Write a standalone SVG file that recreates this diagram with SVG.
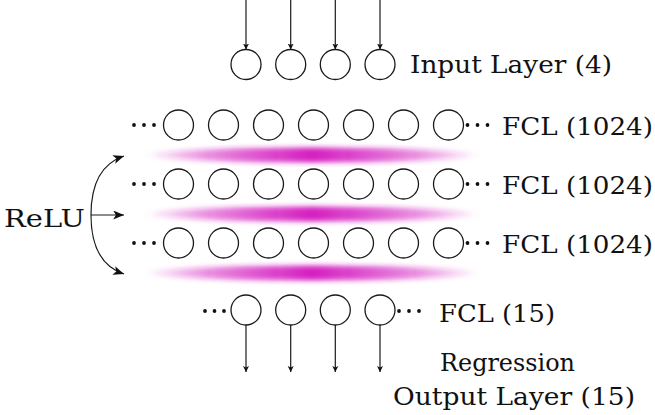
<svg xmlns="http://www.w3.org/2000/svg" width="655" height="415" viewBox="0 0 655 415">
  <style>
    .n { fill: #fff; stroke: #1a1a1a; stroke-width: 1.3; }
    .e { fill: none; stroke: #1a1a1a; stroke-width: 1.2; }
    .d { fill: #111; }
    .t { font-family: 'DejaVu Serif', serif; font-size: 25px; fill: #111; }
    .band { fill: url(#bandFill); filter: url(#soft); }
  </style>
  <defs>
    <marker id="tip" viewBox="0 0 10 10" refX="10" refY="5" markerWidth="6" markerHeight="7" markerUnits="userSpaceOnUse" orient="auto">
      <path d="M0 0 L10 5 L0 10 L2.5 5 Z" fill="#111"/>
    </marker>
    <marker id="big" viewBox="0 0 12 10" refX="12" refY="5" markerWidth="12" markerHeight="9" markerUnits="userSpaceOnUse" orient="auto">
      <path d="M0 0 L12 5 L0 10 L3 5 Z" fill="#111"/>
    </marker>
    <linearGradient id="bandFill" x1="0" y1="0" x2="1" y2="0">
      <stop offset="0" stop-color="#d41cc0" stop-opacity="0.1"/>
      <stop offset="0.2" stop-color="#d41cc0" stop-opacity="0.55"/>
      <stop offset="0.5" stop-color="#d41cc0" stop-opacity="1"/>
      <stop offset="0.8" stop-color="#d41cc0" stop-opacity="0.55"/>
      <stop offset="1" stop-color="#d41cc0" stop-opacity="0.1"/>
    </linearGradient>
    <filter id="soft" x="-0.2" y="-2" width="1.4" height="5">
      <feGaussianBlur stdDeviation="6 2.5"/>
    </filter>
  </defs>

  <!-- activation bands between layers -->
  <ellipse class="band" cx="312" cy="155" rx="160" ry="7.5"/>
  <ellipse class="band" cx="312" cy="214" rx="160" ry="7.5"/>
  <ellipse class="band" cx="312" cy="273" rx="160" ry="7.5"/>

  <g id="connectors">
    <line class="e" x1="246" y1="0" x2="246" y2="49.5" marker-end="url(#tip)"/>
    <line class="e" x1="290.7" y1="0" x2="290.7" y2="49.5" marker-end="url(#tip)"/>
    <line class="e" x1="335.3" y1="0" x2="335.3" y2="49.5" marker-end="url(#tip)"/>
    <line class="e" x1="380" y1="0" x2="380" y2="49.5" marker-end="url(#tip)"/>
    <line class="e" x1="246" y1="325" x2="246" y2="372" marker-end="url(#tip)"/>
    <line class="e" x1="290.7" y1="325" x2="290.7" y2="372" marker-end="url(#tip)"/>
    <line class="e" x1="335.3" y1="325" x2="335.3" y2="372" marker-end="url(#tip)"/>
    <line class="e" x1="380" y1="325" x2="380" y2="372" marker-end="url(#tip)"/>
    <path class="e" d="M91 215 C91 186 100 164 124 156" marker-end="url(#big)"/>
    <line class="e" x1="91" y1="215" x2="124" y2="215" marker-end="url(#big)"/>
    <path class="e" d="M91 215 C91 244 100 266 124 274" marker-end="url(#big)"/>
  </g>

  <g id="input-layer">
    <g id="in-1"><circle class="n" cx="246" cy="64.5" r="15"/></g>
    <g id="in-2"><circle class="n" cx="290.7" cy="64.5" r="15"/></g>
    <g id="in-3"><circle class="n" cx="335.3" cy="64.5" r="15"/></g>
    <g id="in-4"><circle class="n" cx="380" cy="64.5" r="15"/></g>
    <text class="t" x="410" y="73" textLength="202" lengthAdjust="spacingAndGlyphs">Input Layer (4)</text>
  </g>

  <g id="fcl-1">
    <circle class="d" cx="134" cy="125" r="1.9"/><circle class="d" cx="144" cy="125" r="1.9"/><circle class="d" cx="154" cy="125" r="1.9"/>
    <g id="h1-1"><circle class="n" cx="178.5" cy="125" r="15"/></g>
    <g id="h1-2"><circle class="n" cx="223.5" cy="125" r="15"/></g>
    <g id="h1-3"><circle class="n" cx="268.5" cy="125" r="15"/></g>
    <g id="h1-4"><circle class="n" cx="313.5" cy="125" r="15"/></g>
    <g id="h1-5"><circle class="n" cx="358.5" cy="125" r="15"/></g>
    <g id="h1-6"><circle class="n" cx="403.5" cy="125" r="15"/></g>
    <g id="h1-7"><circle class="n" cx="448.5" cy="125" r="15"/></g>
    <circle class="d" cx="467.5" cy="125" r="1.9"/><circle class="d" cx="477.5" cy="125" r="1.9"/><circle class="d" cx="487.5" cy="125" r="1.9"/>
    <text class="t" x="502" y="135" textLength="151" lengthAdjust="spacingAndGlyphs">FCL (1024)</text>
  </g>

  <g id="fcl-2">
    <circle class="d" cx="134" cy="184" r="1.9"/><circle class="d" cx="144" cy="184" r="1.9"/><circle class="d" cx="154" cy="184" r="1.9"/>
    <g id="h2-1"><circle class="n" cx="178.5" cy="184" r="15"/></g>
    <g id="h2-2"><circle class="n" cx="223.5" cy="184" r="15"/></g>
    <g id="h2-3"><circle class="n" cx="268.5" cy="184" r="15"/></g>
    <g id="h2-4"><circle class="n" cx="313.5" cy="184" r="15"/></g>
    <g id="h2-5"><circle class="n" cx="358.5" cy="184" r="15"/></g>
    <g id="h2-6"><circle class="n" cx="403.5" cy="184" r="15"/></g>
    <g id="h2-7"><circle class="n" cx="448.5" cy="184" r="15"/></g>
    <circle class="d" cx="467.5" cy="184" r="1.9"/><circle class="d" cx="477.5" cy="184" r="1.9"/><circle class="d" cx="487.5" cy="184" r="1.9"/>
    <text class="t" x="502" y="194" textLength="151" lengthAdjust="spacingAndGlyphs">FCL (1024)</text>
  </g>

  <g id="fcl-3">
    <circle class="d" cx="134" cy="243" r="1.9"/><circle class="d" cx="144" cy="243" r="1.9"/><circle class="d" cx="154" cy="243" r="1.9"/>
    <g id="h3-1"><circle class="n" cx="178.5" cy="243" r="15"/></g>
    <g id="h3-2"><circle class="n" cx="223.5" cy="243" r="15"/></g>
    <g id="h3-3"><circle class="n" cx="268.5" cy="243" r="15"/></g>
    <g id="h3-4"><circle class="n" cx="313.5" cy="243" r="15"/></g>
    <g id="h3-5"><circle class="n" cx="358.5" cy="243" r="15"/></g>
    <g id="h3-6"><circle class="n" cx="403.5" cy="243" r="15"/></g>
    <g id="h3-7"><circle class="n" cx="448.5" cy="243" r="15"/></g>
    <circle class="d" cx="467.5" cy="243" r="1.9"/><circle class="d" cx="477.5" cy="243" r="1.9"/><circle class="d" cx="487.5" cy="243" r="1.9"/>
    <text class="t" x="502" y="253" textLength="151" lengthAdjust="spacingAndGlyphs">FCL (1024)</text>
  </g>

  <g id="output-layer">
    <circle class="d" cx="205" cy="311" r="1.9"/><circle class="d" cx="214.5" cy="311" r="1.9"/><circle class="d" cx="224" cy="311" r="1.9"/>
    <g id="out-1"><circle class="n" cx="246" cy="310" r="15"/></g>
    <g id="out-2"><circle class="n" cx="290.7" cy="310" r="15"/></g>
    <g id="out-3"><circle class="n" cx="335.3" cy="310" r="15"/></g>
    <g id="out-4"><circle class="n" cx="380" cy="310" r="15"/></g>
    <circle class="d" cx="399" cy="311" r="1.9"/><circle class="d" cx="409" cy="311" r="1.9"/><circle class="d" cx="419" cy="311" r="1.9"/>
    <text class="t" x="439" y="322" textLength="116" lengthAdjust="spacingAndGlyphs">FCL (15)</text>
    <text class="t" x="440" y="371" textLength="135" lengthAdjust="spacingAndGlyphs">Regression</text>
    <text class="t" x="393" y="405" textLength="242" lengthAdjust="spacingAndGlyphs">Output Layer (15)</text>
  </g>

  <g id="relu">
    <text class="t" x="4" y="227" textLength="81" lengthAdjust="spacingAndGlyphs">ReLU</text>
  </g>
</svg>
